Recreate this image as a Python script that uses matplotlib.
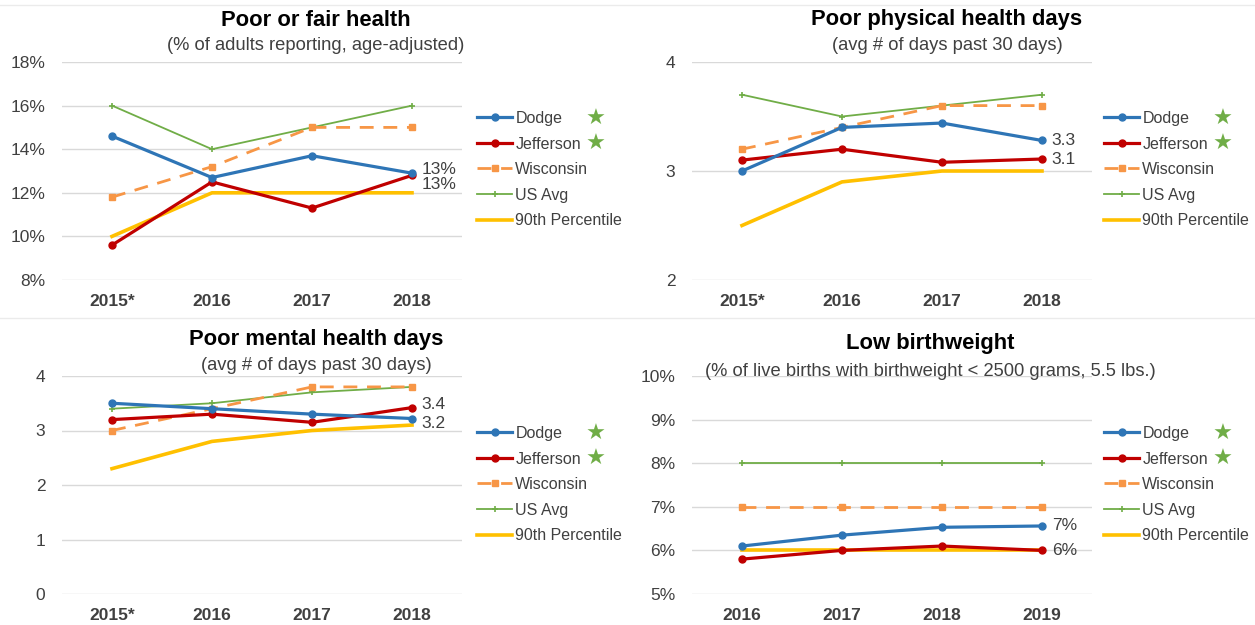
import matplotlib
matplotlib.use("Agg")
import matplotlib.pyplot as plt
from matplotlib.lines import Line2D

plt.rcParams['font.family'] = ['Liberation Sans', 'DejaVu Sans']

# ---------------- data ----------------
series_names = ["Dodge", "Jefferson", "Wisconsin", "US Avg", "90th Percentile"]
years_a = ["2015*", "2016", "2017", "2018"]
years_b = ["2016", "2017", "2018", "2019"]

# Poor or fair health (%)
pf_dodge = [14.6, 12.7, 13.7, 12.9]
pf_jefferson = [9.6, 12.5, 11.3, 12.8]
pf_wisconsin = [11.8, 13.2, 15.0, 15.0]
pf_us = [16.0, 14.0, 15.0, 16.0]
pf_p90 = [10.0, 12.0, 12.0, 12.0]

# Poor physical health days
ph_dodge = [3.0, 3.4, 3.44, 3.28]
ph_jefferson = [3.1, 3.2, 3.08, 3.11]
ph_wisconsin = [3.2, 3.4, 3.6, 3.6]
ph_us = [3.7, 3.5, 3.6, 3.7]
ph_p90 = [2.5, 2.9, 3.0, 3.0]

# Poor mental health days
mh_dodge = [3.5, 3.4, 3.3, 3.22]
mh_jefferson = [3.2, 3.3, 3.15, 3.42]
mh_wisconsin = [3.0, 3.4, 3.8, 3.8]
mh_us = [3.4, 3.5, 3.7, 3.8]
mh_p90 = [2.3, 2.8, 3.0, 3.1]

# Low birthweight (%)
lb_dodge = [6.1, 6.35, 6.53, 6.56]
lb_jefferson = [5.8, 6.0, 6.1, 6.0]
lb_wisconsin = [7.0, 7.0, 7.0, 7.0]
lb_us = [8.0, 8.0, 8.0, 8.0]
lb_p90 = [6.0, 6.0, 6.0, 6.0]

titles = ["Poor or fair health", "Poor physical health days",
          "Poor mental health days", "Low birthweight"]
subtitles = ["(% of adults reporting, age-adjusted)",
             "(avg # of days past 30 days)",
             "(avg # of days past 30 days)",
             "(% of live births with birthweight < 2500 grams, 5.5 lbs.)"]

pf_ticks = [8, 10, 12, 14, 16, 18]
ph_ticks = [2, 3, 4]
mh_ticks = [0, 1, 2, 3, 4]
lb_ticks = [5, 6, 7, 8, 9, 10]

pf_labels = ["13%", "13%"]
ph_labels = ["3.3", "3.1"]
mh_labels = ["3.4", "3.2"]
lb_labels = ["7%", "6%"]

# ---------------- style ----------------
C_DODGE = "#2E75B6"
C_JEFF = "#C00000"
C_WISC = "#F79646"
C_US = "#70AD47"
C_P90 = "#FFC000"
TXT = "#404040"
GRID = "#D9D9D9"

W, H = 1255, 625
fig = plt.figure(figsize=(W / 100, H / 100), dpi=100)


def px_axes(x0, y0, x1, y1):
    return fig.add_axes([x0 / W, 1 - y1 / H, (x1 - x0) / W, (y1 - y0) / H])


def draw_panel(ax, cats, dodge, jeff, wisc, us, p90, ticks, pct, title, subtitle,
               title_x, title_y, sub_y, labels, label_specs, legend_xy):
    x = list(range(len(cats)))
    ax.plot(x, p90, color=C_P90, lw=2.6, zorder=2, label=series_names[4])
    ax.plot(x, us, color=C_US, lw=1.3, marker="+", ms=5, mew=1.2, zorder=3,
            label=series_names[3])
    ax.plot(x, wisc, color=C_WISC, lw=2.0, ls=(0, (5, 3.5)), marker="s", ms=4.5,
            zorder=3, label=series_names[2])
    ax.plot(x, jeff, color=C_JEFF, lw=2.3, marker="o", ms=5, zorder=4,
            label=series_names[1])
    ax.plot(x, dodge, color=C_DODGE, lw=2.3, marker="o", ms=5, zorder=5,
            label=series_names[0])

    ax.set_xlim(-0.5, len(cats) - 0.5)
    ax.set_ylim(ticks[0], ticks[-1])
    ax.set_yticks(ticks)
    if pct:
        ax.set_yticklabels([f"{t}%" for t in ticks])
    else:
        ax.set_yticklabels([str(t) for t in ticks])
    ax.set_xticks(x)
    ax.set_xticklabels(cats, fontweight="bold")
    ax.tick_params(axis="both", length=0, colors=TXT, labelsize=12.5)
    ax.tick_params(axis="y", pad=12)
    ax.tick_params(axis="x", pad=10)
    for s in ax.spines.values():
        s.set_visible(False)
    ax.grid(axis="y", color=GRID, lw=1.0)
    ax.set_axisbelow(True)

    fig.text(title_x / W, 1 - title_y / H, title, ha="center", va="center",
             fontsize=15.8, fontweight="bold", color="black")
    fig.text(title_x / W, 1 - sub_y / H, subtitle, ha="center", va="center",
             fontsize=13.2, color=TXT)

    # data labels at last point
    last = len(cats) - 1
    for txt, (val, dy) in zip(labels, label_specs):
        ax.annotate(txt, xy=(last, val), xytext=(7, dy), textcoords="offset points",
                    ha="left", va="center", fontsize=12.5, color=TXT)

    handles, labs = ax.get_legend_handles_labels()
    order = [4, 3, 2, 1, 0]
    leg = ax.legend([handles[i] for i in order], [labs[i] for i in order],
                    loc="upper left", bbox_to_anchor=(legend_xy[0] / W, 1 - legend_xy[1] / H),
                    bbox_transform=fig.transFigure, frameon=False, fontsize=11.5,
                    handlelength=2.2, handletextpad=0.2, labelspacing=0.66,
                    borderaxespad=0, borderpad=0, numpoints=1)
    for t in leg.get_texts():
        t.set_color(TXT)
    return leg


specs = [
    dict(pos=(62, 62, 462, 280), cats=years_a, d=(pf_dodge, pf_jefferson, pf_wisconsin, pf_us, pf_p90),
         ticks=pf_ticks, pct=True, tx=316, ty=20, sy=46, labels=pf_labels,
         lspec=[(pf_dodge[-1], 3.0), (pf_jefferson[-1], -6.5)], leg=(477, 111)),
    dict(pos=(692, 62, 1092, 280), cats=years_a, d=(ph_dodge, ph_jefferson, ph_wisconsin, ph_us, ph_p90),
         ticks=ph_ticks, pct=False, tx=947, ty=19, sy=46, labels=ph_labels,
         lspec=[(ph_dodge[-1], 0), (ph_jefferson[-1], 0)], leg=(1104, 111)),
    dict(pos=(62, 376, 462, 594), cats=years_a, d=(mh_dodge, mh_jefferson, mh_wisconsin, mh_us, mh_p90),
         ticks=mh_ticks, pct=False, tx=316, ty=340, sy=366, labels=mh_labels,
         lspec=[(mh_jefferson[-1], 2), (mh_dodge[-1], -3.5)], leg=(477, 426)),
    dict(pos=(692, 376, 1092, 594), cats=years_b, d=(lb_dodge, lb_jefferson, lb_wisconsin, lb_us, lb_p90),
         ticks=lb_ticks, pct=True, tx=930, ty=343, sy=371, labels=lb_labels,
         lspec=[(lb_dodge[-1], 0), (lb_jefferson[-1], 0)], leg=(1104, 426)),
]

legends = []
for i, sp in enumerate(specs):
    ax = px_axes(*sp["pos"])
    leg = draw_panel(ax, sp["cats"], *sp["d"], sp["ticks"], sp["pct"], titles[i], subtitles[i],
                     sp["tx"], sp["ty"], sp["sy"], sp["labels"], sp["lspec"], sp["leg"])
    legends.append(leg)

# separator lines
for yy in (5, 318):
    fig.add_artist(Line2D([0, 1], [1 - yy / H, 1 - yy / H], color="#EBEBEB", lw=1,
                          transform=fig.transFigure))

# green stars next to Dodge / Jefferson legend entries
fig.canvas.draw()
renderer = fig.canvas.get_renderer()
for leg, sx in zip(legends, [596, 1223, 596, 1223]):
    for t in leg.get_texts()[:2]:
        bb = t.get_window_extent(renderer)
        yc = (bb.y0 + bb.y1) / 2
        fig.text(sx / W, yc / H, "\u2605", ha="center", va="center",
                 fontsize=16, color=C_US, family=["DejaVu Sans"])

fig.savefig("out.png", dpi=100)
